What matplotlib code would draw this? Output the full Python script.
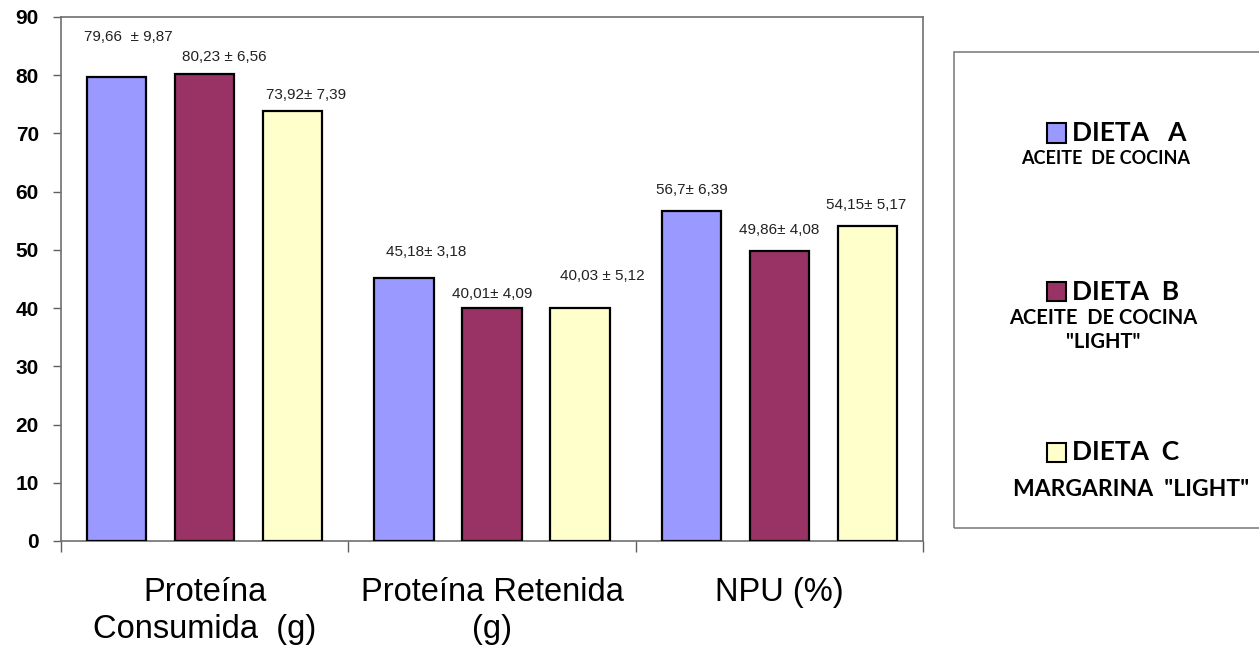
import matplotlib.pyplot as plt
import numpy as np
from matplotlib.patches import Rectangle

plt.rcParams['font.family'] = ['Liberation Sans', 'DejaVu Sans']

categories = ["Proteína\nConsumida  (g)", "Proteína Retenida\n(g)", "NPU (%)"]
diet_names = ["DIETA   A", "DIETA  B", "DIETA  C"]
diet_desc = ["ACEITE  DE COCINA", "ACEITE  DE COCINA\n\"LIGHT\"", "MARGARINA  \"LIGHT\""]
colors = ["#9999FF", "#993366", "#FFFFCC"]

dieta_a = [79.66, 45.18, 56.7]
dieta_b = [80.23, 40.01, 49.86]
dieta_c = [73.92, 40.03, 54.15]

labels_a = ["79,66  ± 9,87", "45,18± 3,18", "56,7± 6,39"]
labels_b = ["80,23 ± 6,56", "40,01± 4,09", "49,86± 4,08"]
labels_c = ["73,92± 7,39", "40,03 ± 5,12", "54,15± 5,17"]

# label offsets (points) relative to bar top center
offs_a = [(8.6, 29), (16, 19), (0, 15)]
offs_b = [(14, 12), (0, 10), (0, 15)]
offs_c = [(10, 11), (16, 23), (-1, 15)]

fig = plt.figure(figsize=(12.59, 6.5), dpi=100)
ax = fig.add_axes([61 / 1259, 1 - 541 / 650, (923 - 61) / 1259, (541 - 17) / 650])

x = np.arange(len(categories))
w = 0.206
shift = 0.306
series = [dieta_a, dieta_b, dieta_c]
all_labels = [labels_a, labels_b, labels_c]
all_offs = [offs_a, offs_b, offs_c]

for i, vals in enumerate(series):
	xs = x + (i - 1) * shift
	ax.bar(
		xs, vals, width = w,
		color = colors[i],
		edgecolor = "black",
		linewidth = 1.6,
		zorder = 3
	)
	for xx, v, lab, (dx, dy) in zip(xs, vals, all_labels[i], all_offs[i]):
		ax.annotate(
			lab, (xx, v),
			xytext = (dx, dy), textcoords = "offset points",
			ha = "center", va = "center",
			fontsize = 11, color = "#222222"
		)

ax.set_xlim(-0.5, 2.5)
ax.set_ylim(0, 90)
ax.set_yticks(np.arange(0, 91, 10))
ax.set_yticklabels([str(v) for v in range(0, 91, 10)], fontsize = 15, fontweight = "bold")
ax.tick_params(axis = "y", direction = "out", length = 6, width = 1, color = "#606060", pad = 10)

ax.set_xticks([-0.5, 0.5, 1.5, 2.5])
ax.set_xticklabels([])
ax.tick_params(axis = "x", which = "major", direction = "out", length = 8, width = 1, color = "#606060")
ax.set_xticks(x, minor = True)
ax.set_xticklabels(categories, minor = True, fontsize = 23.5, linespacing = 1.25)
ax.tick_params(axis = "x", which = "minor", length = 0, pad = 26)

for s in ax.spines.values():
	s.set_color("#707070")
	s.set_linewidth(1.2)

# legend box drawn by hand
fig.patches.append(Rectangle(
	(954 / 1259, 1 - 528 / 650), 0.3, (528 - 52) / 650,
	transform = fig.transFigure, fill = False,
	edgecolor = "#808080", linewidth = 1.2
))

sq_y = [133, 292, 452]
desc_y = [158, 330, 490]
desc_x = [1106, 1103, 1131]
desc_fs = [13, 14.5, 16.5]
for i in range(3):
	fig.patches.append(Rectangle(
		(1047 / 1259, 1 - (sq_y[i] + 9.5) / 650), 19 / 1259, 19 / 650,
		transform = fig.transFigure, facecolor = colors[i],
		edgecolor = "black", linewidth = 1.5
	))
	fig.text(1072 / 1259, 1 - sq_y[i] / 650, diet_names[i],
		family = ["Lato", "DejaVu Sans"], fontweight = "bold", fontsize = 19,
		ha = "left", va = "center")
	fig.text(desc_x[i] / 1259, 1 - desc_y[i] / 650, diet_desc[i],
		family = ["Lato", "DejaVu Sans"], fontweight = "bold", fontsize = desc_fs[i],
		ha = "center", va = "center", multialignment = "center", linespacing = 1.25)

plt.savefig("out.png", dpi = 100)
